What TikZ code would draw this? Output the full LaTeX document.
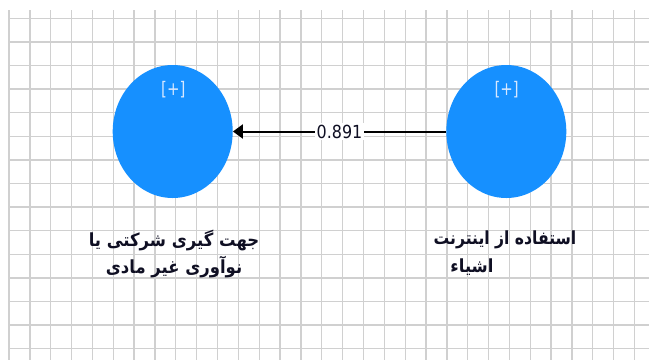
\documentclass[tikz,border=0pt]{standalone}
\usepackage{graphicx}
\usepackage{fontspec}
\setmainfont{DejaVu Sans}
\newfontfamily\arabicfont[Script=Arabic]{DejaVu Sans}
\TeXXeTstate=1
\usetikzlibrary{arrows.meta,shapes.geometric}
\definecolor{gridgray}{RGB}{208,208,208}
\definecolor{lvblue}{RGB}{22,144,255}
\definecolor{plusc}{RGB}{215,232,255}
\definecolor{txt}{RGB}{15,15,35}
\tikzset{
  gridline/.style={draw=gridgray, line width=1.3bp},
  construct/.style={ellipse, fill=lvblue, draw=none, minimum width=120bp, minimum height=133bp, inner sep=0pt},
  plustxt/.style={text=plusc, font=\fontsize{15}{15}\selectfont, inner sep=0pt},
  pathline/.style={draw=black, line width=2bp, -{Triangle[length=10bp,width=14bp]}},
  coef/.style={fill=white, text=txt, font=\fontsize{16}{16}\selectfont, inner sep=1.5bp},
  lbl/.style={text=txt, font=\arabicfont\bfseries\fontsize{16.5}{16.5}\selectfont, inner sep=0pt}
}
\begin{document}
\begin{tikzpicture}[x=1bp,y=-1bp]
\useasboundingbox[fill=white] (0,0) rectangle (649,360);
\foreach \i in {0,...,30} \draw[gridline] ({9+20.85*\i},10) -- ({9+20.85*\i},360);
\foreach \j in {0,...,14} \draw[gridline] (9,{18.3+23.6*\j}) -- (649,{18.3+23.6*\j});
\node[construct] (L) at (172.7,131.5) {};
\node[construct] (R) at (506.3,131.5) {};
\node[plustxt] (Lp) at (173.3,90) {\scalebox{1}[1.25]{[+]}};
\node[plustxt] (Rp) at (506.7,90) {\scalebox{1}[1.25]{[+]}};
\draw[pathline] (R) -- (L) node[midway, coef] (c) {\scalebox{1}[1.13]{0.891}};
\node[lbl] (Lt1) at (174,240) {\scalebox{1}[1.1]{\beginR جهت گیری شرکتی یا\endR}};
\node[lbl] (Lt2) at (174,267) {\scalebox{1}[1.1]{\beginR نوآوری غیر مادی\endR}};
\node[lbl] (Rt1) at (505,240) {\scalebox{0.95}[1.1]{\beginR استفاده از اینترنت\endR}};
\node[lbl] (Rt2) at (472,267) {\scalebox{1}[1.1]{\beginR اشیاء\endR}};
\end{tikzpicture}
\end{document}
